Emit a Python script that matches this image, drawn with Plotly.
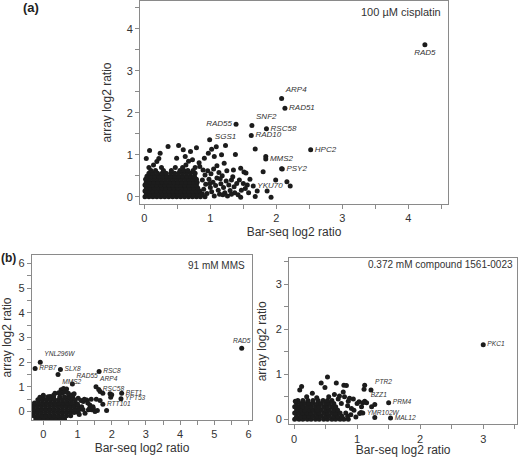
import plotly.graph_objects as go

# ---------------- Panel (a): 100 uM cisplatin ----------------
a_genes = ["RAD5", "ARP4", "RAD51", "RAD55", "SNF2", "RSC58", "RAD10", "SGS1", "HPC2", "MMS2", "PSY2", "YKU70"]
a_gene_x = [4.25, 2.08, 2.13, 1.39, 1.63, 1.85, 1.62, 1.23, 2.52, 1.84, 2.09, 1.65]
a_gene_y = [3.62, 2.34, 2.11, 1.73, 1.70, 1.62, 1.46, 1.22, 1.12, 0.90, 0.66, 0.26]

a_other_x = [1.84, 2.08, 0.99, 1.38, 1.68, 1.80, 1.99, 2.16, 2.21, 1.71, 1.86, 1.92, 1.68, 1.35, 1.46, 1.51, 1.54,
             1.32, 1.44, 1.50, 1.53, 1.47, 1.37, 1.32, 1.46, 0.08, 0.03, 0.22, 0.36, 0.52, 0.59, 0.79, 0.70, 0.91,
             1.02, 1.09, 0.97, 1.06, 1.17, 0.19, 0.14, 0.24, 0.62, 0.49, 0.63, 0.67, 0.73, 0.83, 0.84, 1.10, 1.21,
             0.86, 0.90, 0.93, 0.95, 0.98, 1.00, 1.02, 1.04, 1.06, 1.08, 1.10, 1.12, 1.14, 1.16, 1.18, 1.20, 1.22,
             1.24, 1.26, 1.28, 1.30, 1.34, 1.36, 1.40, 1.42, 1.56, 1.58, 1.60, 0.88, 0.92, 0.96, 1.01, 1.05, 1.13,
             1.25, 0.89, 1.15, 0.99, 1.19]
a_other_y = [0.96, 0.67, 1.36, 1.01, 1.14, 0.60, 0.40, 0.36, 0.26, 0.14, 0.14, -0.01, 0.01, 0.64, 0.68, 0.59, 0.57,
             0.40, 0.40, 0.32, 0.20, 0.16, 0.10, 0.06, -0.01, 1.10, 0.91, 0.91, 1.20, 1.22, 1.12, 1.17, 1.08, 0.92,
             1.13, 1.19, 1.04, 0.96, 1.00, 0.84, 0.76, 1.04, 0.96, 0.92, 0.76, 0.85, 0.88, 0.81, 0.72, 0.74, 0.80,
             0.05, 0.18, 0.30, 0.08, 0.42, 0.22, 0.12, 0.35, 0.02, 0.27, 0.45, 0.16, 0.06, 0.31, 0.50, 0.22, 0.10,
             0.38, 0.02, 0.28, 0.15, 0.48, 0.24, 0.32, 0.05, 0.28, 0.10, 0.42, 0.40, 0.52, 0.62, 0.55, 0.66, 0.58,
             0.62, 0.64, 0.43, 0.32, 0.05]

a_blob_levels = [0.00, 0.07, 0.14, 0.21, 0.28, 0.35, 0.42, 0.49, 0.56, 0.63, 0.70]
a_blob_rows = [
    [0.01, 0.07, 0.13, 0.19, 0.25, 0.31, 0.37, 0.43, 0.49, 0.55, 0.61, 0.67, 0.73, 0.79, 0.85, 0.92],
    [0.03, 0.09, 0.15, 0.21, 0.27, 0.33, 0.39, 0.45, 0.51, 0.57, 0.63, 0.69, 0.75, 0.81, 0.88],
    [0.01, 0.07, 0.13, 0.19, 0.25, 0.31, 0.37, 0.43, 0.49, 0.55, 0.61, 0.67, 0.73, 0.79, 0.84],
    [0.03, 0.09, 0.15, 0.21, 0.27, 0.33, 0.39, 0.45, 0.51, 0.57, 0.63, 0.69, 0.75, 0.81],
    [0.01, 0.07, 0.13, 0.19, 0.25, 0.31, 0.37, 0.43, 0.49, 0.55, 0.61, 0.67, 0.73, 0.79],
    [0.03, 0.09, 0.15, 0.21, 0.27, 0.33, 0.39, 0.45, 0.51, 0.57, 0.63, 0.69, 0.75, 0.80],
    [0.02, 0.08, 0.14, 0.20, 0.26, 0.32, 0.38, 0.44, 0.50, 0.56, 0.62, 0.68, 0.74, 0.79],
    [0.04, 0.10, 0.16, 0.22, 0.28, 0.34, 0.40, 0.46, 0.52, 0.58, 0.64, 0.70, 0.76],
    [0.07, 0.13, 0.20, 0.27, 0.33, 0.40, 0.46, 0.52, 0.58, 0.64, 0.70, 0.77],
    [0.10, 0.17, 0.29, 0.41, 0.54, 0.60, 0.66, 0.74],
    [0.07, 0.26, 0.47, 0.58, 0.77],
]

# ---------------- Panel (b): 91 mM MMS ----------------
b_genes = ["RAD5", "YNL296W", "RPB7", "SLX8", "MMS2", "RSC8", "RAD55", "ARP4", "RSC58", "BET1", "YPT53", "RTT101"]
b_gene_x = [5.80, -0.09, -0.24, 0.50, 0.43, 1.63, 0.85, 1.54, 1.62, 2.29, 2.27, 1.74]
b_gene_y = [2.56, 2.00, 1.75, 1.70, 1.50, 1.62, 1.12, 1.01, 0.89, 0.74, 0.52, 0.30]

b_other_x = [1.66, 1.74, 1.95, 2.00, 1.97, 1.66, 1.55, 1.85, 1.58, 1.41, 0.52, 0.59, 0.55, 0.68, 0.73, 0.34,
             0.20, 0.83, 0.93, 1.02, 1.17, 1.27, 1.36, 1.46, 1.51, 1.32, 1.12, 1.22, -0.10, 0.00, 0.30, 0.45,
             0.90, 1.00, 1.10, 1.20, 1.30, 1.35, 1.45, 1.40, 1.05, 0.64]
b_other_y = [0.81, 0.74, 0.72, 0.68, 0.58, 0.45, 0.50, 0.04, 0.04, 0.07, 0.88, 0.94, 0.74, 0.91, 0.74, 0.74,
             0.61, 0.67, 0.47, 0.54, 0.41, 0.47, 0.27, 0.14, 0.00, 0.07, 0.20, -0.07, 0.58, 0.66, 0.66, 0.76,
             0.72, 0.30, 0.45, 0.50, 0.35, 0.12, 0.20, 0.50, -0.12, 0.80]

b_blob_levels = [-0.30, -0.17, -0.04, 0.09, 0.22, 0.35, 0.48, 0.60]
b_blob_rows = [
    [-0.22, -0.10, 0.02, 0.14, 0.26, 0.38, 0.50, 0.62],
    [-0.28, -0.16, -0.04, 0.08, 0.20, 0.32, 0.44, 0.56, 0.68, 0.80],
    [-0.30, -0.18, -0.06, 0.06, 0.18, 0.30, 0.42, 0.54, 0.66, 0.78, 0.90, 1.02],
    [-0.28, -0.16, -0.04, 0.08, 0.20, 0.32, 0.44, 0.56, 0.68, 0.80, 0.92, 1.04, 1.16],
    [-0.30, -0.18, -0.06, 0.06, 0.18, 0.30, 0.42, 0.54, 0.66, 0.78, 0.90, 1.02],
    [-0.26, -0.14, -0.02, 0.10, 0.22, 0.34, 0.46, 0.58, 0.70, 0.82, 0.94],
    [-0.16, -0.04, 0.08, 0.20, 0.32, 0.44, 0.56, 0.68, 0.80],
    [0.00, 0.14, 0.30, 0.48, 0.62, 0.74, 0.86],
]

# ---------------- Panel (c): 0.372 mM compound 1561-0023 ----------------
c_genes = ["PKC1", "PTR2", "BZZ1", "PRM4", "YMR102W", "MAL12"]
c_gene_x = [3.00, 1.22, 1.15, 1.50, 1.09, 1.53]
c_gene_y = [1.66, 0.65, 0.37, 0.37, 0.14, 0.03]

c_other_x = [0.02, 0.09, 0.12, 0.29, 0.53, 0.43, 0.49, 0.67, 0.79, 0.83, 0.78, 0.80, 0.88, 0.94, 1.12, 1.11,
             1.07, 1.04, 0.91, 1.23, 1.28, 0.70, 0.75, 0.85, 0.90, 0.95, 1.00, 0.98, 0.86, 0.72, 0.55, 0.36,
             0.20, 0.64, 1.03, 1.28, 1.09, 1.06, 1.12]
c_other_y = [0.40, 0.65, 0.73, 0.58, 0.94, 0.81, 0.71, 0.81, 0.76, 0.75, 0.61, 0.50, 0.47, 0.45, 0.76, 0.67,
             0.28, 0.13, 0.24, 0.28, 0.33, 0.45, 0.35, 0.30, 0.10, 0.20, 0.35, 0.05, 0.40, 0.52, 0.50, 0.48,
             0.50, 0.55, 0.39, 0.04, 0.37, 0.15, 0.40]

c_blob_levels = [0.00, 0.07, 0.14, 0.21, 0.28, 0.35, 0.42]
c_blob_rows = [
    [0.01, 0.08, 0.14, 0.21, 0.27, 0.34, 0.40, 0.47, 0.53, 0.60, 0.66, 0.73, 0.79, 0.86],
    [0.04, 0.11, 0.17, 0.24, 0.30, 0.37, 0.43, 0.50, 0.56, 0.63, 0.69, 0.76, 0.85],
    [0.01, 0.08, 0.14, 0.21, 0.27, 0.34, 0.40, 0.47, 0.53, 0.60, 0.66, 0.73, 0.82],
    [0.04, 0.11, 0.17, 0.24, 0.30, 0.37, 0.43, 0.50, 0.56, 0.63, 0.69],
    [0.01, 0.08, 0.14, 0.21, 0.27, 0.34, 0.40, 0.47, 0.53, 0.60, 0.66],
    [0.04, 0.11, 0.17, 0.24, 0.30, 0.37, 0.43, 0.50, 0.56, 0.63],
    [0.06, 0.14, 0.22, 0.30, 0.38, 0.46, 0.53, 0.60],
]

# label placement (style only)
a_pos = ["bottom center", "top right", "middle right", "middle left", "top right", "middle right",
         "middle right", "top center", "middle right", "middle right", "middle right", "middle right"]
b_pos = ["top center", "top right", "middle right", "middle right", "bottom right", "middle right",
         "top right", "top right", "middle right", "middle right", "middle right", "middle right"]
c_pos = ["middle right", "top right", "top right", "middle right", "middle right", "middle right"]

DOT = "#1c1c1c"
AX = "#8a8a8a"
TXT = "#333333"
FONT = "Liberation Sans, Arial, sans-serif"


def flatten(levels, rows):
    xs, ys = [], []
    for lv, row in zip(levels, rows):
        for v in row:
            xs.append(v)
            ys.append(lv)
    return xs, ys


fig = go.Figure()

panels = [
    ("x", "y", a_blob_levels, a_blob_rows, a_other_x, a_other_y, a_genes, a_gene_x, a_gene_y, a_pos, 8),
    ("x2", "y2", b_blob_levels, b_blob_rows, b_other_x, b_other_y, b_genes, b_gene_x, b_gene_y, b_pos, 6.6),
    ("x3", "y3", c_blob_levels, c_blob_rows, c_other_x, c_other_y, c_genes, c_gene_x, c_gene_y, c_pos, 6.6),
]

for xa, ya, lv, rows, ox, oy, genes, gx, gy, pos, fs in panels:
    bx, by = flatten(lv, rows)
    fig.add_trace(go.Scatter(x=bx + ox, y=by + oy, mode="markers", xaxis=xa, yaxis=ya,
                             marker=dict(size=5, color=DOT), showlegend=False, hoverinfo="skip"))
    fig.add_trace(go.Scatter(x=gx, y=gy, text=genes, mode="markers+text", textposition=pos,
                             xaxis=xa, yaxis=ya, marker=dict(size=5, color=DOT),
                             textfont=dict(family=FONT, size=fs, color="#333333", style="italic"),
                             showlegend=False, hoverinfo="skip"))


def axis_style(domain, rng, title, standoff, anchor):
    return dict(
        domain=domain, range=rng, anchor=anchor,
        showline=True, mirror=True, linecolor=AX, linewidth=1,
        ticks="outside", ticklen=4, tickcolor=AX, tickwidth=1,
        tick0=0, dtick=1,
        minor=dict(dtick=0.5, ticks="outside", ticklen=4, tickcolor=AX, showgrid=False),
        tickfont=dict(family=FONT, size=11, color=TXT),
        showgrid=False, zeroline=False, automargin=False,
        title=dict(text=title, font=dict(family=FONT, size=12, color=TXT), standoff=standoff),
    )


W, H = 518, 457
fig.update_layout(
    width=W, height=H,
    margin=dict(l=0, r=0, t=0, b=0),
    paper_bgcolor="white", plot_bgcolor="white",
    font=dict(family=FONT, color=TXT),
    xaxis=axis_style([140 / W, 448 / W], [-0.065, 4.6], "Bar-seq log2 ratio", 4, "y"),
    yaxis=axis_style([1 - 204 / H, 1 - 1 / H], [-0.17, 4.66], "array log2 ratio", 12, "x"),
    xaxis2=axis_style([31.7 / W, 252.3 / W], [-0.34, 6.11], "Bar-seq log2 ratio", 4, "y2"),
    yaxis2=axis_style([1 - 420 / H, 1 - 255 / H], [-0.34, 6.34], "array log2 ratio", 6, "x2"),
    xaxis3=axis_style([289 / W, 517.3 / W], [-0.08, 3.54], "Bar-seq log2 ratio", 4, "y3"),
    yaxis3=axis_style([1 - 424.3 / H, 1 - 258.3 / H], [-0.11, 3.58], "array log2 ratio", 6, "x3"),
    annotations=[
        dict(text="<b>(a)</b>", x=31 / W, y=1 - 8 / H, xref="paper", yref="paper",
             xanchor="center", yanchor="middle",
             showarrow=False, font=dict(family=FONT, size=13, color="#222222")),
        dict(text="<b>(b)</b>", x=8 / W, y=1 - 258 / H, xref="paper", yref="paper",
             xanchor="center", yanchor="middle",
             showarrow=False, font=dict(family=FONT, size=12, color="#222222")),
        dict(text="100 µM cisplatin", x=443 / W, y=1 - 12 / H, xref="paper", yref="paper",
             xanchor="right", yanchor="middle", showarrow=False, font=dict(family=FONT, size=11, color=TXT)),
        dict(text="91 mM MMS", x=247 / W, y=1 - 265 / H, xref="paper", yref="paper",
             xanchor="right", yanchor="middle", showarrow=False, font=dict(family=FONT, size=10, color=TXT)),
        dict(text="0.372 mM compound 1561-0023", x=515 / W, y=1 - 264 / H, xref="paper", yref="paper",
             xanchor="right", yanchor="middle", showarrow=False, font=dict(family=FONT, size=10, color=TXT)),
    ],
)

fig.write_html("out.html", config={"displayModeBar": False},
               post_script="document.body.style.margin='0';document.body.style.overflow='hidden';")
